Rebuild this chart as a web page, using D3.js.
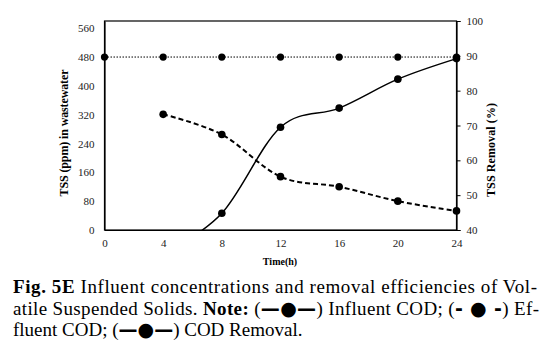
<!DOCTYPE html>
<html><head><meta charset="utf-8">
<script src="https://cdn.jsdelivr.net/npm/d3@7"></script>
<style>
body{margin:0;background:#fff;}
svg{display:block;}
text{font-family:"Liberation Serif","DejaVu Serif",serif;fill:#000;}
</style></head>
<body><div id="chart"></div>
<script>
const times = [0, 4, 8, 12, 16, 20, 24];
const influent = [480, 480, 480, 480, 480, 480, 480];
const effTimes = [4, 8, 12, 16, 20, 24];
const effluent = [321, 265, 148, 120, 80, 53];
const removal = [33.1, 44.8, 69.5, 75.0, 83.3, 89.2];
const leftTicks = [0, 80, 160, 240, 320, 400, 480, 560];
const rightTicks = [40, 50, 60, 70, 80, 90, 100];
const xTicks = [0, 4, 8, 12, 16, 20, 24];

const W = 544, H = 346;
const m = {left: 104.5, right: 544 - 456.5, top: 21, bottom: 346 - 230};
const svg = d3.select("#chart").append("svg").attr("width", W).attr("height", H);

const x = d3.scaleLinear().domain([0, 24]).range([m.left, W - m.right]);
const yL = d3.scaleLinear().domain([0, 580]).range([H - m.bottom, m.top]);
const yR = d3.scaleLinear().domain([40, 100]).range([H - m.bottom, m.top]);

svg.append("clipPath").attr("id", "clip").append("rect")
  .attr("x", m.left).attr("y", m.top).attr("width", x(24) - m.left).attr("height", yL(0) - m.top);

// frame
svg.append("rect").attr("x", m.left).attr("y", m.top)
  .attr("width", x(24) - m.left).attr("height", yL(0) - m.top)
  .attr("fill", "none").attr("stroke", "#000").attr("stroke-width", 1.2);

const tickFont = "'Liberation Serif', serif";
// left axis
const gl = svg.append("g").attr("transform", `translate(${m.left},0)`)
  .call(d3.axisLeft(yL).tickValues(leftTicks).tickSize(0).tickPadding(10));
gl.attr("font-family", null);
gl.select(".domain").attr("stroke", "#000").attr("stroke-width", 1.2);
gl.selectAll("text").style("font-size", "11px").style("font-family", tickFont).style("fill", "#222");

// right axis
const gr = svg.append("g").attr("transform", `translate(${x(24)},0)`)
  .call(d3.axisRight(yR).tickValues(rightTicks).tickSize(4).tickPadding(6));
gr.attr("font-family", null);
gr.select(".domain").attr("stroke", "#000").attr("stroke-width", 1.2);
gr.selectAll("line").attr("stroke", "#000");
gr.selectAll("text").style("font-size", "11px").style("font-family", tickFont).style("fill", "#222");

// bottom axis
const gb = svg.append("g").attr("transform", `translate(0,${yL(0)})`)
  .call(d3.axisBottom(x).tickValues(xTicks).tickSize(0).tickPadding(9));
gb.attr("font-family", null);
gb.select(".domain").attr("stroke", "#000").attr("stroke-width", 1.2);
gb.selectAll("text").style("font-size", "11px").style("font-family", tickFont).style("fill", "#222");

// axis titles
svg.append("text").attr("transform", `translate(68,133) rotate(-90)`)
  .attr("text-anchor", "middle").style("font-size", "12px").style("font-weight", "bold")
  .attr("textLength", 127).attr("lengthAdjust", "spacing")
  .text("TSS (ppm)  in  wastewater");
svg.append("text").attr("transform", `translate(495,150) rotate(-90)`)
  .attr("text-anchor", "middle").style("font-size", "12px").style("font-weight", "bold")
  .attr("textLength", 94).attr("lengthAdjust", "spacing")
  .text("TSS Removal  (%)");
svg.append("text").attr("x", 280).attr("y", 265)
  .attr("text-anchor", "middle").style("font-size", "10px").style("font-weight", "bold")
  .text("Time(h)");

// influent (dotted)
svg.append("path").datum(times.map((t, i) => [t, influent[i]]))
  .attr("fill", "none").attr("stroke", "#000").attr("stroke-width", 1).attr("stroke-dasharray", "1.5,1.5")
  .attr("d", d3.line().x(d => x(d[0])).y(d => yL(d[1])));
svg.selectAll(".inf").data(times.map((t, i) => [t, influent[i]])).join("circle")
  .attr("cx", d => x(d[0])).attr("cy", d => yL(d[1])).attr("r", 3.6).attr("fill", "#000");

// effluent (dashed)
const effData = effTimes.map((t, i) => [t, effluent[i]]);
svg.append("path").datum(effData)
  .attr("fill", "none").attr("stroke", "#000").attr("stroke-width", 2).attr("stroke-dasharray", "5,3")
  .attr("d", d3.line().x(d => x(d[0])).y(d => yL(d[1])).curve(d3.curveCardinal.tension(0)));
svg.selectAll(".eff").data(effData).join("circle")
  .attr("cx", d => x(d[0])).attr("cy", d => yL(d[1])).attr("r", 3.8).attr("fill", "#000");

// removal (solid, right axis)
const remData = effTimes.map((t, i) => [t, removal[i]]);
const gRem = svg.append("g").attr("clip-path", "url(#clip)");
gRem.append("path").datum(remData)
  .attr("fill", "none").attr("stroke", "#000").attr("stroke-width", 1.5)
  .attr("d", d3.line().x(d => x(d[0])).y(d => yR(d[1])).curve(d3.curveCardinal.tension(0)));
svg.selectAll(".rem").data(remData.filter(d => d[1] >= 40)).join("circle")
  .attr("cx", d => x(d[0])).attr("cy", d => yR(d[1])).attr("r", 3.8).attr("fill", "#000");

// caption
const cap = svg.append("g").style("font-size", "19px").style("font-family", "'Liberation Serif', serif");
const l1 = cap.append("text").attr("x", 13).attr("y", 293).attr("textLength", 524).attr("lengthAdjust", "spacing");
l1.append("tspan").style("font-weight", "bold").text("Fig. 5E");
l1.append("tspan").text("  Influent concentrations and removal efficiencies of Vol-");
const l2 = cap.append("text").attr("x", 13).attr("y", 314.5).attr("textLength", 526).attr("lengthAdjust", "spacing");
l2.append("tspan").text("atile Suspended Solids. ");
l2.append("tspan").style("font-weight", "bold").text("Note:");
l2.append("tspan").text(" (");
l2.append("tspan").style("font-weight", "bold").style("font-family", "DejaVu Sans").text("—●—");
l2.append("tspan").text(") Influent COD; (");
l2.append("tspan").style("font-weight", "bold").style("font-family", "DejaVu Sans").text("- ● -");
l2.append("tspan").text(") Ef-");
const l3 = cap.append("text").attr("x", 13).attr("y", 336);
l3.append("tspan").text("fluent COD; (");
l3.append("tspan").style("font-weight", "bold").style("font-family", "DejaVu Sans").text("—●—");
l3.append("tspan").text(") COD Removal.");
</script></body></html>
